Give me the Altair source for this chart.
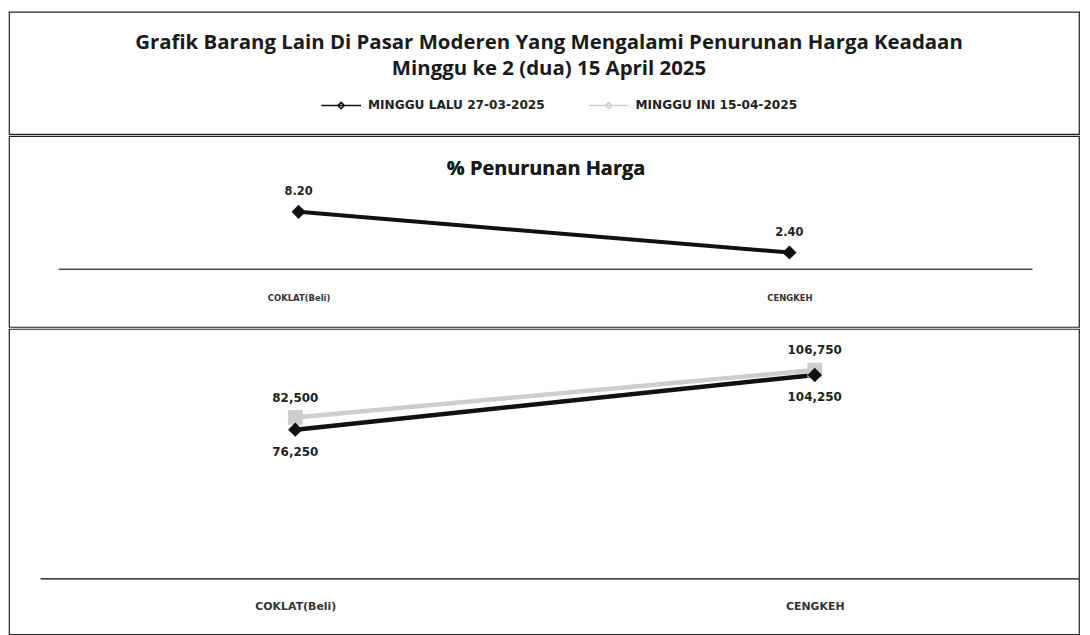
import altair as alt
import pandas as pd

categories = ["COKLAT(Beli)", "CENGKEH"]
series = ["MINGGU LALU 27-03-2025", "MINGGU INI 15-04-2025"]
pct_lalu = [8.20, 2.40]
harga_lalu = [76250, 104250]
harga_ini = [82500, 106750]
title_lines = ["Grafik Barang Lain Di Pasar Moderen  Yang Mengalami Penurunan Harga Keadaan",
               "Minggu ke 2 (dua) 15 April 2025"]
panel_title = "% Penurunan Harga"

W = 1076
BLACK = "#111111"
GRAY = "#cdcdcd"

legend = alt.Legend(
    title=None, orient="none", legendX=313, legendY=73, direction="horizontal",
    symbolType="M-1,0L1,0M0,-0.16L0.16,0L0,0.16L-0.16,0Z", symbolSize=1600,
    symbolStrokeWidth=1.6, labelFont="DejaVu Sans", labelFontSize=12.2, labelFontWeight="bold",
    labelColor="#222", columnPadding=40, labelOffset=6, labelLimit=400,
)
color_scale = alt.Scale(domain=series, range=[BLACK, GRAY])

# header
hdf = pd.DataFrame({"line": title_lines, "i": [0, 1]})
header = alt.Chart(hdf).mark_text(
    baseline="middle", align="center", font="Open Sans", fontSize=20.5, fontWeight="bold", color="#1a1a1a"
).encode(
    x=alt.value(543),
    y=alt.Y("i:O", scale=alt.Scale(type="point", range=[31, 58], padding=0), axis=None),
    text="line:N",
).properties(width=W, height=123)

# panel 1
df1 = pd.DataFrame({"kategori": categories, "nilai": pct_lalu, "judul": panel_title})
x1 = alt.X("kategori:N", sort=categories, scale=alt.Scale(type="point", padding=0.59),
           axis=alt.Axis(title=None, domain=False, ticks=False, grid=False, labelPadding=0,
                         offset=-34, labelFontSize=8.5, labelFont="DejaVu Sans", labelFontWeight="bold",
                         labelColor="#333", labelAngle=0))
y1 = alt.Y("nilai:Q", scale=alt.Scale(domain=[-8.2, 19]), axis=None)
base1 = alt.Chart(df1).encode(x=x1, y=y1)
line1 = base1.mark_line(strokeWidth=4, color=BLACK)
pts1 = base1.mark_point(filled=True, size=200, opacity=1, shape="diamond", color=BLACK)
lab1 = base1.mark_text(dy=-20, font="DejaVu Sans", fontSize=11.5, fontWeight="bold", color="#222").encode(
    text=alt.Text("nilai:Q", format=".2f"))
rule1 = alt.Chart(df1).transform_calculate(z="0").mark_rule(color="#444", strokeWidth=1.2).encode(
    x=alt.value(50), x2=alt.value(1029), y=alt.Y("z:Q", scale=alt.Scale(domain=[-8.2, 19]), axis=None))
ttl1 = alt.Chart(df1).mark_text(
    font="Open Sans", fontSize=20, fontWeight="bold", color="#1a1a1a").encode(
    x=alt.value(540), y=alt.value(33), text="judul:N")
p1 = alt.layer(line1, pts1, lab1, rule1, ttl1).properties(width=W, height=192)

# panel 2
df2 = pd.DataFrame({
    "kategori": categories * 2,
    "harga": harga_lalu + harga_ini,
    "seri": [series[0]] * 2 + [series[1]] * 2,
})
x2 = alt.X("kategori:N", sort=categories, scale=alt.Scale(type="point", padding=0.53, align=0.52),
           axis=alt.Axis(title=None, domain=False, ticks=False, grid=False, labelPadding=0,
                         offset=-34, labelFontSize=11, labelFont="DejaVu Sans", labelFontWeight="bold",
                         labelColor="#333", labelAngle=0))
y2 = alt.Y("harga:Q", scale=alt.Scale(domain=[-28500, 127800]), axis=None)
base2 = alt.Chart(df2).encode(x=x2, y=y2)
line2 = base2.mark_line(strokeWidth=4.5).encode(
    color=alt.Color("seri:N", scale=color_scale, legend=legend))
ptsA = base2.transform_filter(alt.datum.seri == series[0]).mark_point(
    filled=True, size=210, opacity=1, shape="diamond", color=BLACK)
ptsB = base2.transform_filter(alt.datum.seri == series[1]).mark_point(
    filled=True, size=220, opacity=1, shape="square", color=GRAY)
lab2a = base2.transform_filter(alt.datum.seri == series[0]).mark_text(
    dy=22, font="DejaVu Sans", fontSize=12, fontWeight="bold", color="#222").encode(
    text=alt.Text("harga:Q", format=",.0f"))
lab2b = base2.transform_filter(alt.datum.seri == series[1]).mark_text(
    dy=-20, font="DejaVu Sans", fontSize=12, fontWeight="bold", color="#222").encode(
    text=alt.Text("harga:Q", format=",.0f"))
rule2 = alt.Chart(df2).transform_calculate(z="0").mark_rule(color="#444", strokeWidth=1.2).encode(
    x=alt.value(32), x2=alt.value(1077), y=alt.Y("z:Q", scale=alt.Scale(domain=[-28500, 127800]), axis=None))
p2 = alt.layer(line2, ptsB, ptsA, lab2a, lab2b, rule2).properties(width=W, height=307)

chart = alt.vconcat(header, p1, p2, spacing=0).properties(
    padding={"left": 0, "top": 1, "right": 0, "bottom": 0}, background="white"
).configure_view(stroke="#222", strokeWidth=1.2)

chart.save("out.html", embed_options={"renderer": "svg", "actions": False})
